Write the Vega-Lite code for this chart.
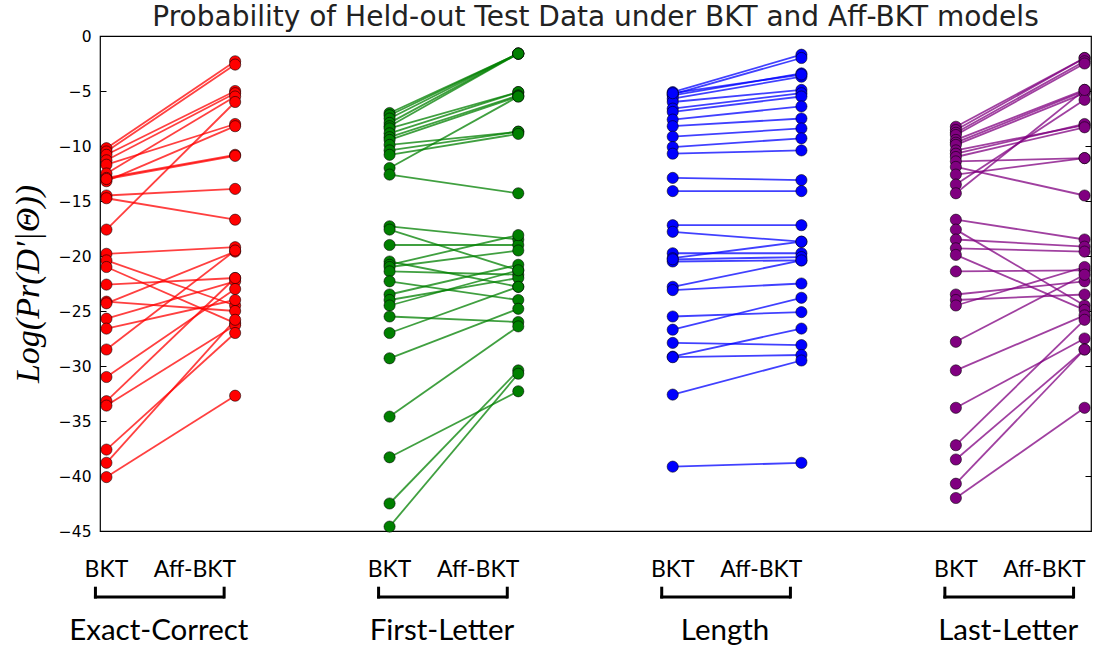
{
  "$schema": "https://vega.github.io/schema/vega-lite/v6.json",
  "width": 991,
  "height": 495,
  "autosize": {"type": "none"},
  "padding": {"left": 100, "top": 36, "right": 16, "bottom": 121},
  "background": "white",
  "title": {
    "text": "Probability of Held-out Test Data under BKT and Aff-BKT models",
    "font": "DejaVu Sans",
    "fontSize": 28,
    "fontWeight": "normal",
    "color": "#222",
    "frame": "group",
    "anchor": "middle",
    "baseline": "alphabetic",
    "offset": 4,
    "dy": 29
  },
  "config": {"view": {"stroke": "#000", "strokeWidth": 1.2}},
  "datasets": {
    "slots": [
      {"slot": "Exact-Correct|BKT", "g": "Exact-Correct", "m": "BKT", "pos": 0},
      {"slot": "Exact-Correct|Aff-BKT", "g": "Exact-Correct", "m": "Aff-BKT", "pos": 1},
      {"slot": "First-Letter|BKT", "g": "First-Letter", "m": "BKT", "pos": 2.2},
      {"slot": "First-Letter|Aff-BKT", "g": "First-Letter", "m": "Aff-BKT", "pos": 3.2},
      {"slot": "Length|BKT", "g": "Length", "m": "BKT", "pos": 4.4},
      {"slot": "Length|Aff-BKT", "g": "Length", "m": "Aff-BKT", "pos": 5.4},
      {"slot": "Last-Letter|BKT", "g": "Last-Letter", "m": "BKT", "pos": 6.6},
      {"slot": "Last-Letter|Aff-BKT", "g": "Last-Letter", "m": "Aff-BKT", "pos": 7.6}
    ],
    "pairs": [
      {"id": 1, "g": "Exact-Correct", "BKT": -10.2, "Aff-BKT": -2.3},
      {"id": 2, "g": "Exact-Correct", "BKT": -10.5, "Aff-BKT": -2.6},
      {"id": 3, "g": "Exact-Correct", "BKT": -10.8, "Aff-BKT": -5.0},
      {"id": 4, "g": "Exact-Correct", "BKT": -11.3, "Aff-BKT": -5.2},
      {"id": 5, "g": "Exact-Correct", "BKT": -11.7, "Aff-BKT": -8.0},
      {"id": 6, "g": "Exact-Correct", "BKT": -12.5, "Aff-BKT": -5.5},
      {"id": 7, "g": "Exact-Correct", "BKT": -12.9, "Aff-BKT": -10.8},
      {"id": 8, "g": "Exact-Correct", "BKT": -13.2, "Aff-BKT": -8.2},
      {"id": 9, "g": "Exact-Correct", "BKT": -13.0, "Aff-BKT": -10.9},
      {"id": 10, "g": "Exact-Correct", "BKT": -14.5, "Aff-BKT": -13.9},
      {"id": 11, "g": "Exact-Correct", "BKT": -14.75, "Aff-BKT": -16.7},
      {"id": 12, "g": "Exact-Correct", "BKT": -17.6, "Aff-BKT": -6.0},
      {"id": 13, "g": "Exact-Correct", "BKT": -19.8, "Aff-BKT": -19.2},
      {"id": 14, "g": "Exact-Correct", "BKT": -20.4, "Aff-BKT": -24.5},
      {"id": 15, "g": "Exact-Correct", "BKT": -21.0, "Aff-BKT": -26.1},
      {"id": 16, "g": "Exact-Correct", "BKT": -22.6, "Aff-BKT": -22.0},
      {"id": 17, "g": "Exact-Correct", "BKT": -24.15, "Aff-BKT": -25.0},
      {"id": 18, "g": "Exact-Correct", "BKT": -24.3, "Aff-BKT": -19.6},
      {"id": 19, "g": "Exact-Correct", "BKT": -25.7, "Aff-BKT": -22.3},
      {"id": 20, "g": "Exact-Correct", "BKT": -26.6, "Aff-BKT": -24.0},
      {"id": 21, "g": "Exact-Correct", "BKT": -28.5, "Aff-BKT": -19.5},
      {"id": 22, "g": "Exact-Correct", "BKT": -31.0, "Aff-BKT": -23.0},
      {"id": 23, "g": "Exact-Correct", "BKT": -33.2, "Aff-BKT": -22.0},
      {"id": 24, "g": "Exact-Correct", "BKT": -33.6, "Aff-BKT": -26.3},
      {"id": 25, "g": "Exact-Correct", "BKT": -37.6, "Aff-BKT": -27.0},
      {"id": 26, "g": "Exact-Correct", "BKT": -38.8, "Aff-BKT": -25.8},
      {"id": 27, "g": "Exact-Correct", "BKT": -40.1, "Aff-BKT": -32.7},
      {"id": 28, "g": "First-Letter", "BKT": -7.0, "Aff-BKT": -1.6},
      {"id": 29, "g": "First-Letter", "BKT": -7.2, "Aff-BKT": -1.6},
      {"id": 30, "g": "First-Letter", "BKT": -7.5, "Aff-BKT": -1.6},
      {"id": 31, "g": "First-Letter", "BKT": -7.9, "Aff-BKT": -1.6},
      {"id": 32, "g": "First-Letter", "BKT": -8.2, "Aff-BKT": -1.6},
      {"id": 33, "g": "First-Letter", "BKT": -8.4, "Aff-BKT": -5.1},
      {"id": 34, "g": "First-Letter", "BKT": -8.85, "Aff-BKT": -5.1},
      {"id": 35, "g": "First-Letter", "BKT": -9.2, "Aff-BKT": -5.4},
      {"id": 36, "g": "First-Letter", "BKT": -9.45, "Aff-BKT": -5.5},
      {"id": 37, "g": "First-Letter", "BKT": -9.9, "Aff-BKT": -8.7},
      {"id": 38, "g": "First-Letter", "BKT": -10.4, "Aff-BKT": -8.7},
      {"id": 39, "g": "First-Letter", "BKT": -10.8, "Aff-BKT": -8.9},
      {"id": 40, "g": "First-Letter", "BKT": -12.0, "Aff-BKT": -5.5},
      {"id": 41, "g": "First-Letter", "BKT": -12.6, "Aff-BKT": -14.3},
      {"id": 42, "g": "First-Letter", "BKT": -17.3, "Aff-BKT": -18.5},
      {"id": 43, "g": "First-Letter", "BKT": -17.6, "Aff-BKT": -21.3},
      {"id": 44, "g": "First-Letter", "BKT": -19.0, "Aff-BKT": -19.0},
      {"id": 45, "g": "First-Letter", "BKT": -20.5, "Aff-BKT": -22.8},
      {"id": 46, "g": "First-Letter", "BKT": -20.8, "Aff-BKT": -18.1},
      {"id": 47, "g": "First-Letter", "BKT": -21.0, "Aff-BKT": -19.5},
      {"id": 48, "g": "First-Letter", "BKT": -21.4, "Aff-BKT": -21.7},
      {"id": 49, "g": "First-Letter", "BKT": -22.3, "Aff-BKT": -24.0},
      {"id": 50, "g": "First-Letter", "BKT": -23.5, "Aff-BKT": -20.8},
      {"id": 51, "g": "First-Letter", "BKT": -24.0, "Aff-BKT": -22.0},
      {"id": 52, "g": "First-Letter", "BKT": -24.5, "Aff-BKT": -21.3},
      {"id": 53, "g": "First-Letter", "BKT": -25.5, "Aff-BKT": -26.0},
      {"id": 54, "g": "First-Letter", "BKT": -27.0, "Aff-BKT": -22.8},
      {"id": 55, "g": "First-Letter", "BKT": -29.3, "Aff-BKT": -24.8},
      {"id": 56, "g": "First-Letter", "BKT": -34.6, "Aff-BKT": -26.4},
      {"id": 57, "g": "First-Letter", "BKT": -38.3, "Aff-BKT": -32.3},
      {"id": 58, "g": "First-Letter", "BKT": -42.5, "Aff-BKT": -30.4},
      {"id": 59, "g": "First-Letter", "BKT": -44.6, "Aff-BKT": -30.7},
      {"id": 60, "g": "Length", "BKT": -5.1, "Aff-BKT": -1.7},
      {"id": 61, "g": "Length", "BKT": -5.3, "Aff-BKT": -2.0},
      {"id": 62, "g": "Length", "BKT": -5.4, "Aff-BKT": -3.4},
      {"id": 63, "g": "Length", "BKT": -5.7, "Aff-BKT": -3.7},
      {"id": 64, "g": "Length", "BKT": -6.0, "Aff-BKT": -4.9},
      {"id": 65, "g": "Length", "BKT": -5.2, "Aff-BKT": -3.5},
      {"id": 66, "g": "Length", "BKT": -6.6, "Aff-BKT": -5.2},
      {"id": 67, "g": "Length", "BKT": -6.9, "Aff-BKT": -5.5},
      {"id": 68, "g": "Length", "BKT": -7.6, "Aff-BKT": -6.4},
      {"id": 69, "g": "Length", "BKT": -8.2, "Aff-BKT": -7.5},
      {"id": 70, "g": "Length", "BKT": -9.15, "Aff-BKT": -8.4},
      {"id": 71, "g": "Length", "BKT": -10.1, "Aff-BKT": -9.3},
      {"id": 72, "g": "Length", "BKT": -10.7, "Aff-BKT": -10.4},
      {"id": 73, "g": "Length", "BKT": -12.9, "Aff-BKT": -13.1},
      {"id": 74, "g": "Length", "BKT": -14.1, "Aff-BKT": -14.1},
      {"id": 75, "g": "Length", "BKT": -17.2, "Aff-BKT": -17.2},
      {"id": 76, "g": "Length", "BKT": -17.8, "Aff-BKT": -18.7},
      {"id": 77, "g": "Length", "BKT": -19.75, "Aff-BKT": -19.75},
      {"id": 78, "g": "Length", "BKT": -20.2, "Aff-BKT": -18.7},
      {"id": 79, "g": "Length", "BKT": -20.5, "Aff-BKT": -20.4},
      {"id": 80, "g": "Length", "BKT": -20.3, "Aff-BKT": -20.1},
      {"id": 81, "g": "Length", "BKT": -22.8, "Aff-BKT": -20.4},
      {"id": 82, "g": "Length", "BKT": -23.1, "Aff-BKT": -22.5},
      {"id": 83, "g": "Length", "BKT": -25.5, "Aff-BKT": -25.1},
      {"id": 84, "g": "Length", "BKT": -26.7, "Aff-BKT": -23.8},
      {"id": 85, "g": "Length", "BKT": -27.9, "Aff-BKT": -28.1},
      {"id": 86, "g": "Length", "BKT": -29.15, "Aff-BKT": -26.6},
      {"id": 87, "g": "Length", "BKT": -29.2, "Aff-BKT": -29.0},
      {"id": 88, "g": "Length", "BKT": -32.6, "Aff-BKT": -29.5},
      {"id": 89, "g": "Length", "BKT": -39.15, "Aff-BKT": -38.8},
      {"id": 90, "g": "Last-Letter", "BKT": -8.25, "Aff-BKT": -2.0},
      {"id": 91, "g": "Last-Letter", "BKT": -8.55, "Aff-BKT": -2.0},
      {"id": 92, "g": "Last-Letter", "BKT": -8.8, "Aff-BKT": -2.3},
      {"id": 93, "g": "Last-Letter", "BKT": -9.0, "Aff-BKT": -2.5},
      {"id": 94, "g": "Last-Letter", "BKT": -9.45, "Aff-BKT": -4.9},
      {"id": 95, "g": "Last-Letter", "BKT": -9.7, "Aff-BKT": -5.0},
      {"id": 96, "g": "Last-Letter", "BKT": -9.9, "Aff-BKT": -5.2},
      {"id": 97, "g": "Last-Letter", "BKT": -10.4, "Aff-BKT": -8.1},
      {"id": 98, "g": "Last-Letter", "BKT": -10.7, "Aff-BKT": -8.0},
      {"id": 99, "g": "Last-Letter", "BKT": -11.0, "Aff-BKT": -8.3},
      {"id": 100, "g": "Last-Letter", "BKT": -11.4, "Aff-BKT": -11.1},
      {"id": 101, "g": "Last-Letter", "BKT": -11.9, "Aff-BKT": -14.5},
      {"id": 102, "g": "Last-Letter", "BKT": -12.6, "Aff-BKT": -11.1},
      {"id": 103, "g": "Last-Letter", "BKT": -13.5, "Aff-BKT": -5.8},
      {"id": 104, "g": "Last-Letter", "BKT": -14.3, "Aff-BKT": -4.9},
      {"id": 105, "g": "Last-Letter", "BKT": -16.7, "Aff-BKT": -18.5},
      {"id": 106, "g": "Last-Letter", "BKT": -17.6, "Aff-BKT": -24.5},
      {"id": 107, "g": "Last-Letter", "BKT": -18.5, "Aff-BKT": -19.15},
      {"id": 108, "g": "Last-Letter", "BKT": -19.3, "Aff-BKT": -19.6},
      {"id": 109, "g": "Last-Letter", "BKT": -19.9, "Aff-BKT": -24.9},
      {"id": 110, "g": "Last-Letter", "BKT": -21.4, "Aff-BKT": -21.3},
      {"id": 111, "g": "Last-Letter", "BKT": -23.5, "Aff-BKT": -22.3},
      {"id": 112, "g": "Last-Letter", "BKT": -24.0, "Aff-BKT": -23.5},
      {"id": 113, "g": "Last-Letter", "BKT": -24.5, "Aff-BKT": -21.0},
      {"id": 114, "g": "Last-Letter", "BKT": -27.8, "Aff-BKT": -21.7},
      {"id": 115, "g": "Last-Letter", "BKT": -30.4, "Aff-BKT": -25.4},
      {"id": 116, "g": "Last-Letter", "BKT": -33.8, "Aff-BKT": -27.5},
      {"id": 117, "g": "Last-Letter", "BKT": -37.2, "Aff-BKT": -25.8},
      {"id": 118, "g": "Last-Letter", "BKT": -38.5, "Aff-BKT": -28.5},
      {"id": 119, "g": "Last-Letter", "BKT": -40.7, "Aff-BKT": -28.5},
      {"id": 120, "g": "Last-Letter", "BKT": -42.0, "Aff-BKT": -33.8}
    ]
  },
  "layer": [
    {
      "data": {"name": "pairs"},
      "transform": [
        {"fold": ["BKT", "Aff-BKT"], "as": ["m", "v"]},
        {"calculate": "datum.g + '|' + datum.m", "as": "slot"},
        {"lookup": "slot", "from": {"data": {"name": "slots"}, "key": "slot", "fields": ["pos"]}}
      ],
      "layer": [
        {
          "mark": {"type": "line", "strokeWidth": 1.8, "opacity": 0.75},
          "encoding": {
            "x": {"field": "pos", "type": "quantitative", "scale": {"domain": [-0.05, 7.65], "nice": false, "zero": false}, "axis": null},
            "y": {
              "field": "v", "type": "quantitative",
              "scale": {"domain": [-45, 0], "nice": false, "zero": false},
              "axis": {
                "values": [0, -5, -10, -15, -20, -25, -30, -35, -40, -45],
                "tickSize": -6, "tickColor": "#000", "tickWidth": 1,
                "labelPadding": 15, "labelFont": "DejaVu Sans", "labelFontSize": 15.5, "labelColor": "#000",
                "domain": false, "grid": false,
                "title": "Log(Pr(D′|Θ))",
                "titleFont": "Liberation Serif", "titleFontStyle": "italic", "titleFontWeight": "normal",
                "titleFontSize": 34, "titleColor": "#000", "titlePadding": 13
              }
            },
            "color": {"field": "g", "type": "nominal", "scale": {"domain": ["Exact-Correct", "First-Letter", "Length", "Last-Letter"], "range": ["#ff0000", "#008000", "#0000ff", "#800080"]}, "legend": null},
            "detail": {"field": "id"},
            "order": {"field": "pos"}
          }
        },
        {
          "mark": {"type": "circle", "size": 125, "opacity": 1, "stroke": "#000", "strokeWidth": 1, "strokeOpacity": 0.55},
          "encoding": {
            "x": {"field": "pos", "type": "quantitative"},
            "y": {
              "field": "v", "type": "quantitative",
              "axis": {
                "orient": "right", "values": [0, -5, -10, -15, -20, -25, -30, -35, -40, -45],
                "labels": false, "tickSize": -6, "tickColor": "#000", "domain": false, "grid": false, "title": null
              }
            },
            "color": {"field": "g", "type": "nominal", "legend": null}
          }
        }
      ],
      "resolve": {"axis": {"y": "independent"}}
    },
    {
      "data": {"name": "slots"},
      "transform": [{"filter": "datum.m == 'BKT'"}],
      "mark": {"type": "text", "font": "Lato", "fontSize": 23, "align": "center", "baseline": "alphabetic", "dx": 0, "color": "#000"},
      "encoding": {
        "x": {"field": "pos", "type": "quantitative"},
        "y": {"datum": -49.2, "axis": null},
        "text": {"field": "m"}
      }
    },
    {
      "data": {"name": "slots"},
      "transform": [{"filter": "datum.m == 'Aff-BKT'"}],
      "mark": {"type": "text", "font": "Lato", "fontSize": 23, "align": "right", "baseline": "alphabetic", "dx": 1, "color": "#000"},
      "encoding": {
        "x": {"field": "pos", "type": "quantitative"},
        "y": {"datum": -49.2, "axis": null},
        "text": {"field": "m"}
      }
    },
    {
      "data": {"name": "slots"},
      "transform": [{"aggregate": [{"op": "min", "field": "pos", "as": "lo"}, {"op": "max", "field": "pos", "as": "hi"}], "groupby": ["g"]}],
      "mark": {"type": "rule", "strokeWidth": 3, "color": "#000", "xOffset": -11, "x2Offset": -12, "strokeCap": "square"},
      "encoding": {
        "x": {"field": "lo", "type": "quantitative"},
        "x2": {"field": "hi"},
        "y": {"datum": -51.0, "axis": null}
      }
    },
    {
      "data": {"name": "slots"},
      "mark": {"type": "rule", "strokeWidth": 3, "color": "#000", "xOffset": -11, "strokeCap": "square"},
      "encoding": {
        "x": {"field": "pos", "type": "quantitative"},
        "y": {"datum": -50.2, "axis": null},
        "y2": {"datum": -51.0}
      }
    },
    {
      "data": {"name": "slots"},
      "transform": [{"aggregate": [{"op": "mean", "field": "pos", "as": "mid"}], "groupby": ["g"]}],
      "mark": {"type": "text", "font": "Lato", "fontSize": 29.5, "align": "center", "baseline": "alphabetic", "dx": -12, "color": "#000"},
      "encoding": {
        "x": {"field": "mid", "type": "quantitative"},
        "y": {"datum": -54.9, "axis": null},
        "text": {"field": "g"}
      }
    }
  ],
  "resolve": {"axis": {"y": "independent"}}
}
